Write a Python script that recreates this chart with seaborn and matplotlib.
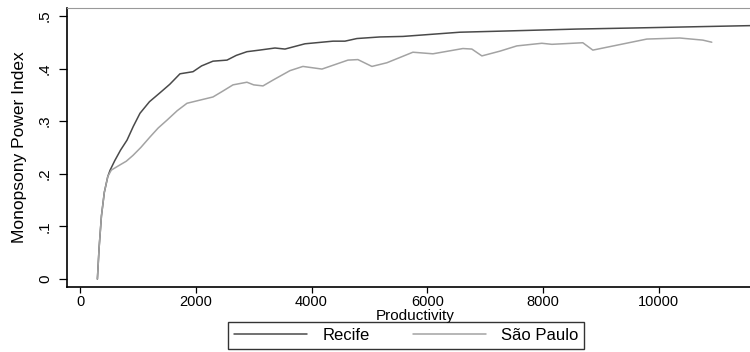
from matplotlib import pyplot as plt
import pandas as pd
import seaborn as sns

sns.set_style("ticks")
plt.rcParams['font.family'] = ['Liberation Sans', 'DejaVu Sans']
plt.rcParams['text.color'] = 'black'
plt.rcParams['axes.labelcolor'] = 'black'
plt.rcParams['xtick.labelcolor'] = 'black'
plt.rcParams['ytick.labelcolor'] = 'black'

# values
recife_x = [300, 330, 370, 420, 480, 520, 600, 700, 812, 920, 1036, 1200, 1382, 1550,
            1727, 1952, 2100, 2297, 2539, 2700, 2884, 3100, 3368, 3541, 3886, 4370,
            4577, 4784, 5181, 5579, 6563, 7254, 8584, 9551, 11800]
recife_y = [0, 0.06, 0.12, 0.165, 0.195, 0.207, 0.225, 0.245, 0.264, 0.29, 0.315, 0.337,
            0.354, 0.37, 0.39, 0.394, 0.405, 0.414, 0.416, 0.425, 0.432, 0.435, 0.439,
            0.437, 0.447, 0.452, 0.452, 0.457, 0.46, 0.461, 0.469, 0.471, 0.475, 0.477,
            0.482]

sp_x = [300, 330, 370, 420, 480, 540, 600, 691, 800, 915, 1050, 1209, 1350, 1503, 1680,
        1848, 2072, 2297, 2450, 2643, 2884, 3000, 3161, 3333, 3627, 3851, 4180, 4629,
        4801, 5043, 5302, 5751, 6097, 6615, 6770, 6943, 7254, 7547, 7979, 8152, 8687,
        8860, 9793, 10362, 10760, 10915]
sp_y = [0, 0.06, 0.12, 0.165, 0.195, 0.207, 0.211, 0.217, 0.224, 0.235, 0.25, 0.27,
        0.287, 0.302, 0.32, 0.334, 0.34, 0.346, 0.356, 0.369, 0.374, 0.369, 0.367, 0.378,
        0.396, 0.404, 0.399, 0.416, 0.417, 0.404, 0.411, 0.431, 0.428, 0.438, 0.437,
        0.424, 0.433, 0.443, 0.448, 0.446, 0.449, 0.435, 0.456, 0.458, 0.454, 0.45]

x_ticks = [0, 2000, 4000, 6000, 8000, 10000]
y_ticks = [0, 0.1, 0.2, 0.3, 0.4, 0.5]
y_labels = ["0", ".1", ".2", ".3", ".4", ".5"]

df = pd.concat([
    pd.DataFrame({"Productivity": recife_x, "MPI": recife_y, "city": "Recife"}),
    pd.DataFrame({"Productivity": sp_x, "MPI": sp_y, "city": "São Paulo"}),
])

fig = plt.figure(figsize=(7.5, 3.52), dpi=100)
ax = fig.add_axes([67 / 750, 1 - 287 / 352, (763 - 67) / 750, (287 - 8) / 352])
sns.lineplot(data=df, x="Productivity", y="MPI", hue="city", sort=False,
             palette={"Recife": "#4a4a4a", "São Paulo": "#a3a3a3"},
             linewidth=1.1, ax=ax, legend=False)

ax.set_xlim(-225, 11800)
ax.set_ylim(-0.015, 0.515)
ax.set_xticks(x_ticks)
ax.set_yticks(y_ticks)
ax.set_yticklabels(y_labels, rotation=90, va="center")
ax.tick_params(axis="x", labelsize=10.5, length=4.3, width=0.9, pad=1.5, color="black")
ax.tick_params(axis="y", labelsize=11, length=5.8, width=0.9, pad=5, color="black")
ax.set_xlabel("Productivity", fontsize=11)
ax.xaxis.set_label_coords(0.5, -0.08)
ax.set_ylabel("Monopsony Power Index", fontsize=12.5)
ax.yaxis.set_label_coords(-0.058, 0.5)

ax.spines["right"].set_visible(False)
ax.spines["top"].set_color("#999999")
for side in ["left", "bottom"]:
    ax.spines[side].set_linewidth(1.2)
    ax.spines[side].set_color("black")

handles = [plt.Line2D([], [], color="#4a4a4a", lw=1.1),
           plt.Line2D([], [], color="#a3a3a3", lw=1.1)]
leg = fig.legend(handles, ["Recife", "São Paulo"], ncol=2, fontsize=12,
                 loc="upper left", bbox_to_anchor=(228 / 750, 1 - 322 / 352),
                 handlelength=4.4, handletextpad=0.9, columnspacing=2.6,
                 borderpad=0.35, fancybox=False, borderaxespad=0, frameon=True)
leg.get_frame().set_edgecolor("black")
leg.get_frame().set_linewidth(1.0)

fig.savefig("out.png", dpi=100)
